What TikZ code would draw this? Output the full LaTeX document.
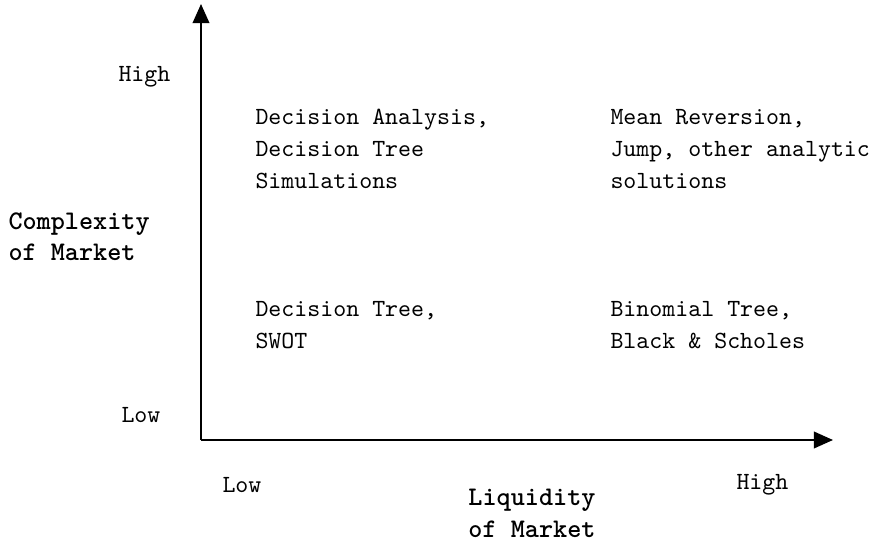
\documentclass[tikz,border=0pt]{standalone}
\usepackage{fontspec}
\usepackage{tikz}
\usetikzlibrary{positioning}
\usetikzlibrary{arrows.meta}
\tikzstyle{axis} = [draw,thick,-{Triangle[width=6.5pt,length=7.5pt]}]
\tikzstyle{lbl} = [font=\ttfamily\fontsize{9.65}{12.5}\selectfont,align=left,inner sep=0pt,anchor=west]
\tikzstyle{title} = [font=\ttfamily\bfseries\fontsize{10.5}{12.3}\selectfont,inner sep=0pt]

\begin{document}
\begin{tikzpicture}[x=0.3906pt,y=-0.3906pt]

  \useasboundingbox (0,0) rectangle (877,541);

  \coordinate (origin) at (201,440);
  \coordinate (ytop) at (201,4);
  \coordinate (xend) at (833,440);

  \path[axis] (origin) -- (ytop);
  \path[axis] (origin) -- (xend);

  % tick labels
  \foreach \x/\y/\name/\label in {118/77/yhigh/High, 121/415/ylow/Low, 222/485/xlow/Low, 736/485/xhigh/High}
         \node[lbl] (\name) at (\x,\y) {\label};

  % quadrants
  \foreach \x/\y/\name/\label in {255/149/highlow/{Decision Analysis,\\Decision Tree\\Simulations},
                                  610/149/highhigh/{Mean Reversion,\\Jump, other analytic\\solutions},
                                  255/325/lowlow/{Decision Tree,\\SWOT},
                                  610/325/lowhigh/{Binomial Tree,\\Black \& Scholes}}
         \node[lbl] (\name) at (\x,\y) {\label};

  % axis titles
  \node[title,align=left,anchor=west] (ytitle) at (8,236.5) {Complexity\\of Market};
  \node[title,align=center] (xtitle) at (532,513.5) {Liquidity\\of Market};

\end{tikzpicture}
\end{document}
